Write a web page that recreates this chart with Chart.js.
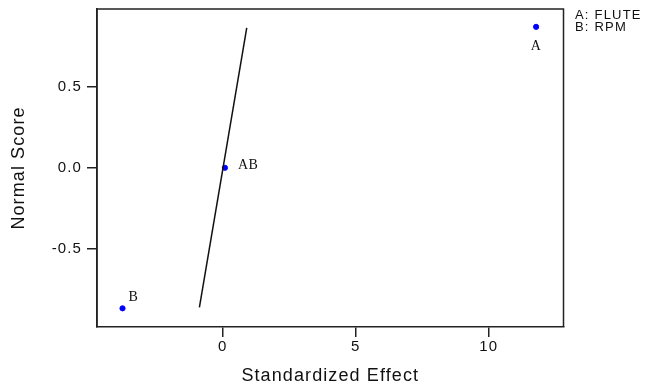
<!DOCTYPE html>
<html>
<head>
<meta charset="utf-8">
<script src="https://cdn.jsdelivr.net/npm/chart.js@4"></script>
<style>
  html, body { margin: 0; padding: 0; background: #fff; }
  #wrap { width: 647px; height: 387px; }
</style>
</head>
<body>
<div id="wrap"><canvas id="myChart"></canvas></div>
<script>
// effects and their normal scores
const effectNames = ['A', 'B', 'AB'];
const effectValues = [11.78, -3.77, 0.08];
const normalScores = [0.868, -0.866, 0.0];
// fitted reference line (two ends)
const lineX = [-0.88, 0.90];
const lineY = [-0.86, 0.862];
const xTicks = [0, 5, 10];
const yTicks = [-0.5, 0.0, 0.5];
const factorKey = ['A: FLUTE', 'B: RPM'];

const ctx = document.getElementById('myChart');

// where each point label sits relative to its point
const labelPos = {
  A:  { dx: 0,  dy: 23, align: 'center' },
  B:  { dx: 6,  dy: -7, align: 'left' },
  AB: { dx: 13, dy: 1,  align: 'left' }
};

const spacing = {
  id: 'spacing',
  beforeDraw(chart) { chart.ctx.letterSpacing = '1.1px'; },
  afterDraw(chart) {
    const c = chart.ctx;
    const a = chart.chartArea;
    // top and right edges of the frame
    c.save();
    c.strokeStyle = '#222';
    c.lineWidth = 1.5;
    c.beginPath();
    c.moveTo(a.left, a.bottom);
    c.lineTo(a.left, a.top);
    c.lineTo(a.right, a.top);
    c.lineTo(a.right, a.bottom);
    c.stroke();

    // point labels
    const meta = chart.getDatasetMeta(1);
    c.font = '14px "Liberation Serif"';
    c.fillStyle = '#111';
    c.letterSpacing = '0.5px';
    c.textBaseline = 'alphabetic';
    meta.data.forEach((pt, i) => {
      const p = labelPos[effectNames[i]];
      c.textAlign = p.align;
      c.fillText(effectNames[i], pt.x + p.dx, pt.y + p.dy);
    });

    // factor key
    c.font = '13px "Liberation Sans"';
    c.letterSpacing = '1.2px';
    c.textAlign = 'left';
    factorKey.forEach((t, i) => c.fillText(t, 575, 18.5 + i * 12.8));
    c.restore();
    c.letterSpacing = '0px';
  }
};

new Chart(ctx, {
  type: 'scatter',
  data: {
    datasets: [
      {
        type: 'line',
        data: lineX.map((x, i) => ({ x: x, y: lineY[i] })),
        borderColor: '#111',
        borderWidth: 1.5,
        pointRadius: 0,
        fill: false
      },
      {
        data: effectValues.map((x, i) => ({ x: x, y: normalScores[i] })),
        backgroundColor: '#0000ff',
        borderColor: '#0000ff',
        pointRadius: 2.6,
        pointHoverRadius: 2.6
      }
    ]
  },
  options: {
    responsive: true,
    maintainAspectRatio: false,
    animation: false,
    layout: { autoPadding: false, padding: { top: 9, right: 83.5, left: 0, bottom: 0 } },
    plugins: { legend: { display: false }, tooltip: { enabled: false } },
    scales: {
      x: {
        type: 'linear',
        min: -4.73,
        max: 12.81,
        afterFit(s) { s.height = 60; s.paddingLeft = 0; s.paddingRight = 0; },
        afterBuildTicks(s) { s.ticks = xTicks.map(v => ({ value: v })); },
        ticks: {
          color: '#111',
          padding: 1,
          font: { family: '"Liberation Sans"', size: 15 },
          callback: v => String(v)
        },
        grid: { drawOnChartArea: false, drawTicks: true, tickLength: 10, color: '#222', lineWidth: 1.5 },
        border: { display: true, color: '#222', width: 1.5 },
        title: {
          display: true,
          text: 'Standardized Effect',
          color: '#111',
          font: { family: '"Liberation Sans"', size: 18 },
          padding: { top: 0, bottom: 0 }
        }
      },
      y: {
        type: 'linear',
        min: -0.981,
        max: 0.978,
        afterFit(s) { s.width = 97; s.paddingTop = 0; s.paddingBottom = 0; },
        afterBuildTicks(s) { s.ticks = yTicks.map(v => ({ value: v })); },
        ticks: {
          color: '#111',
          padding: 5,
          font: { family: '"Liberation Sans"', size: 15 },
          callback: v => v.toFixed(1)
        },
        grid: { drawOnChartArea: false, drawTicks: true, tickLength: 10, color: '#222', lineWidth: 1.5 },
        border: { display: true, color: '#222', width: 1.5 },
        title: {
          display: true,
          text: 'Normal Score',
          color: '#111',
          font: { family: '"Liberation Sans"', size: 18 },
          padding: { top: 8, bottom: 0 }
        }
      }
    }
  },
  plugins: [spacing]
});
</script>
</body>
</html>
